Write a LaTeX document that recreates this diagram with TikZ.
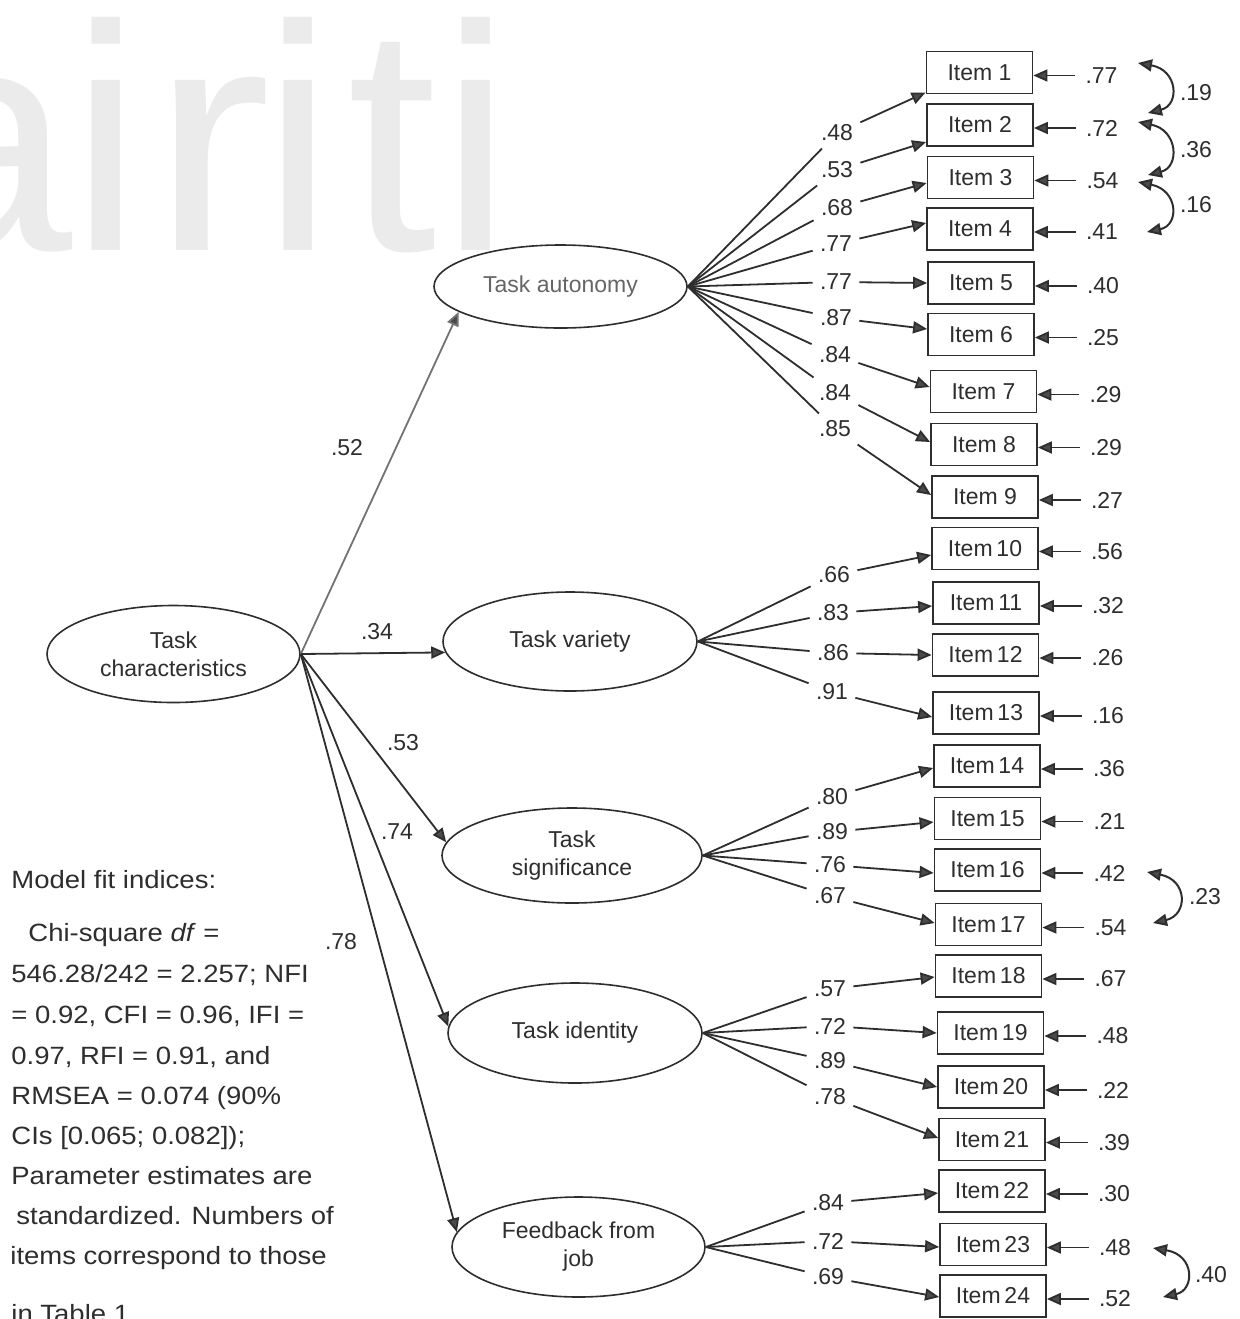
\documentclass[tikz,border=0pt]{standalone}
\usepackage{fontspec}
\setmainfont{Liberation Sans}
\usetikzlibrary{arrows.meta,shapes.geometric,calc}
\definecolor{ink}{HTML}{2E2E2E}
\definecolor{tipc}{HTML}{4A4A4A}
\definecolor{wm}{HTML}{EBEBEB}
\begin{document}
\begin{tikzpicture}[x=0.5pt,y=-0.5pt,
  wmark/.style={inner sep=0pt,text depth=0pt,text=wm,font=\fontsize{161}{161}\selectfont},
  lat/.style={ellipse,draw=ink,line width=0.8pt,inner sep=0pt,align=center,text=ink,font=\fontsize{11.5}{14}\selectfont},
  itembox/.style={rectangle,draw=ink,line width=0.9pt,minimum width=53pt,minimum height=21pt,inner sep=0pt,text=ink,font=\fontsize{11.5}{14}\selectfont},
  errlab/.style={inner sep=5pt,text=ink,font=\fontsize{11.5}{14}\selectfont},
  loadlab/.style={inner sep=3.5pt,text=ink,font=\fontsize{11.5}{14}\selectfont},
  pathlab/.style={inner sep=2pt,text=ink,font=\fontsize{11.5}{14}\selectfont},
  fittext/.style={inner sep=0pt,anchor=base west,text=ink,font=\fontsize{12.5}{15}\selectfont},
  ln/.style={draw=ink,line width=0.9pt},
  arr/.style={draw=ink,line width=0.9pt,-{Triangle[length=7pt,width=6pt,fill=tipc]}},
  dblarr/.style={draw=ink,line width=1pt,{Triangle[length=7pt,width=6pt,fill=tipc]}-{Triangle[length=7pt,width=6pt,fill=tipc]}}
]
\fill[white] (0,0) rectangle (1240,1319);
\useasboundingbox (0,0) rectangle (1240,1319);

% watermark
\node[wmark,anchor=base east] (wa) at (73,250) {a};
\node[wmark,anchor=base] (wi1) at (106,250) {i};
\node[wmark,anchor=base] (wr) at (212,250) {\scalebox{1.12}[1]{r}};
\node[wmark,anchor=base] (wi2) at (298,250) {i};
\node[wmark,anchor=base] (wt) at (392,250) {t};
\node[wmark,anchor=base] (wi3) at (476,250) {i};

% latent variables
\node[lat,minimum width=126.5pt,minimum height=48.5pt] (tc) at (173.5,654) {Task\\characteristics};
\node[lat,minimum width=126.5pt,minimum height=41.5pt,text=black!60] (aut) at (560.5,286.5) {Task autonomy};
\node[lat,minimum width=127pt,minimum height=49.5pt] (var) at (570,641.5) {Task variety};
\node[lat,minimum width=130pt,minimum height=47.5pt] (sig) at (572,855.5) {Task\\significance};
\node[lat,minimum width=127pt,minimum height=50pt] (ide) at (575,1033) {Task identity};
\node[lat,minimum width=126.5pt,minimum height=50pt] (fee) at (578.5,1247) {Feedback from\\job};

% structural paths
\draw[arr,draw=black!55] (tc.east) -- (aut.194);
\draw[arr] (tc.east) -- (var.185);
\draw[arr] (tc.east) -- (sig.174);
\draw[arr] (tc.east) -- (ide.177);
\draw[arr] (tc.east) -- (fee.173.5);
\node[pathlab] (p1) at (347,448) {.52};
\node[pathlab] (p2) at (377,632) {.34};
\node[pathlab] (p3) at (403,743) {.53};
\node[pathlab] (p4) at (397,832) {.74};
\node[pathlab] (p5) at (341,942) {.78};

% items, loadings and error terms
\foreach \i/\ix/\iy/\lx/\ly/\lv/\ev/\dy/\lat in {
 1/979.5/72.5/837/133/.48/.77/20/aut,
 2/980/125/837/170/.53/.72/17/aut,
 3/980.5/177.5/837/208/.68/.54/5.5/aut,
 4/980/229/836/244/.77/.41/-6/aut,
 5/981/283/836/282/.77/.40/0/aut,
 6/981/334.5/836/318/.87/.25/-5.5/aut,
 7/983.5/391.5/835/355/.84/.29/-4.5/aut,
 8/984/444.5/835/393/.84/.29/-2.5/aut,
 9/985/497/835/429/.85/.27/-2/aut,
 10/985/548.5/834/575/.66/.56/6.5/var,
 11/986/603/833/613/.83/.32/3/var,
 12/985.5/655/833/653/.86/.26/0/var,
 13/986/713/832/692/.91/.16/4/var,
 14/987/766/832/797/.80/.36/2/sig,
 15/987.5/818.5/832/832/.89/.21/3.5/sig,
 16/987.5/870/830/865/.76/.42/3/sig,
 17/988.5/924.5/830/896/.67/.54/-1.5/sig,
 18/988.5/976/830/989/.57/.67/1/ide,
 19/990.5/1033/830/1026/.72/.48/0/ide,
 20/991/1087/830/1061/.89/.22/0/ide,
 21/992/1139.5/830/1097/.78/.39/-1.5/ide,
 22/992/1191/828/1203/.84/.30/2/fee,
 23/993/1244.5/828/1241/.72/.48/2.5/fee,
 24/993/1296/828/1277/.69/.52/1/fee}
{
  \node[itembox] (it\i) at (\ix,\iy) {\ifnum\i>9 Item\,\i\else Item \i\fi};
  \node[errlab] (e\i) at (\ix+122,\iy+3) {\ev};
  \draw[arr] (e\i) -- (e\i -| it\i.east);
  \node[loadlab] (l\i) at (\lx,\ly) {\lv};
  \draw[ln] (\lat.east) -- (l\i);
  \draw[arr] (l\i) -- ($(it\i.west)+(0,\dy)$);
}

% correlated errors
\coordinate (c1a) at (1138,63);   \coordinate (c1b) at (1148,113);
\coordinate (c2a) at (1138,122);  \coordinate (c2b) at (1148,175);
\coordinate (c3a) at (1138,182);  \coordinate (c3b) at (1147,232);
\coordinate (c4a) at (1147,872);  \coordinate (c4b) at (1153,923);
\coordinate (c5a) at (1153,1248); \coordinate (c5b) at (1163,1297);
\draw[dblarr] (c1a) .. controls (1178,70) and (1180,105) .. (c1b);
\draw[dblarr] (c2a) .. controls (1178,130) and (1180,167) .. (c2b);
\draw[dblarr] (c3a) .. controls (1178,190) and (1180,225) .. (c3b);
\draw[dblarr] (c4a) .. controls (1188,880) and (1188,915) .. (c4b);
\draw[dblarr] (c5a) .. controls (1195,1255) and (1195,1290) .. (c5b);
\node[pathlab] (r1) at (1196,93) {.19};
\node[pathlab] (r2) at (1196,150) {.36};
\node[pathlab] (r3) at (1196,205) {.16};
\node[pathlab] (r4) at (1205,897) {.23};
\node[pathlab] (r5) at (1211,1275) {.40};

% fit indices text
\node[fittext] (t1) at (11,888) {\scalebox{1.1}[1]{Model fit indices:}};
\node[fittext] (t2) at (28,941) {\scalebox{1.1}[1]{Chi-square \textit{df} =}};
\node[fittext] (t3) at (11,982) {\scalebox{1.1}[1]{546.28/242 = 2.257; NFI}};
\node[fittext] (t4) at (11,1023) {\scalebox{1.1}[1]{= 0.92, CFI = 0.96, IFI =}};
\node[fittext] (t5) at (11,1064) {\scalebox{1.1}[1]{0.97, RFI = 0.91, and}};
\node[fittext] (t6) at (11,1104) {\scalebox{1.1}[1]{RMSEA = 0.074 (90\%}};
\node[fittext] (t7) at (11,1144) {\scalebox{1.1}[1]{CIs [0.065; 0.082]);}};
\node[fittext] (t8) at (11,1184) {\scalebox{1.1}[1]{Parameter estimates are}};
\node[fittext] (t9) at (16,1224) {\scalebox{1.1}[1]{standardized. Numbers of}};
\node[fittext] (t10) at (10,1264) {\scalebox{1.1}[1]{items correspond to those}};
\node[fittext] (t11) at (11,1322) {\scalebox{1.1}[1]{in Table 1.}};
\end{tikzpicture}
\end{document}
